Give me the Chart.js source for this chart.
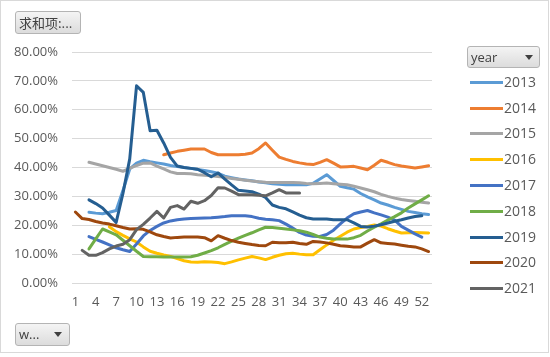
<!DOCTYPE html>
<html><head><meta charset="utf-8">
<script src="https://cdn.jsdelivr.net/npm/chart.js@4/dist/chart.umd.min.js"></script>
<style>
body{margin:0;background:#fff;}
#wrap{position:relative;width:550px;height:357px;overflow:hidden;font-family:"Open Sans","Noto Sans CJK SC",sans-serif;}
#frame{position:absolute;left:0;top:0;width:547px;height:351px;border:1px solid #d9d9d9;}
canvas{position:absolute;left:0;top:0;}
.btn{position:absolute;box-sizing:border-box;border:1px solid #b4b4b4;border-radius:3px;background:linear-gradient(#f4f4f4,#dcdcdc);color:#404040;font-size:13px;line-height:21px;}
.arrow{position:absolute;width:0;height:0;border-left:4px solid transparent;border-right:4px solid transparent;border-top:5px solid #404040;}
#legend{position:absolute;left:470px;top:70px;}
.li{position:absolute;left:0;height:20px;width:80px;}
.li .sw{position:absolute;left:0;top:9px;width:33px;height:3px;}
.li .tx{position:absolute;left:34px;top:0;font-size:14px;line-height:20px;color:#595959;}
</style></head>
<body>
<div id="wrap">
<div id="frame"></div>
<canvas id="c" width="550" height="357"></canvas>
<div class="btn" style="left:15px;top:11px;width:66px;height:23px;padding-left:3px;font-family:'Noto Sans CJK SC',sans-serif;">求和项:...</div>
<div class="btn" style="left:15px;top:323px;width:55px;height:23px;padding-left:3px;">w...<div class="arrow" style="left:38px;top:8px;"></div></div>
<div class="btn" style="left:467px;top:46px;width:73px;height:22px;padding-left:3px;line-height:20px;">year<div class="arrow" style="left:57px;top:8px;"></div></div>
<div id="legend"></div>
</div>
<script>
const weeks = Array.from({length:53}, (_, i) => String(i + 1));
const years = ['2013','2014','2015','2016','2017','2018','2019','2020','2021'];
const colors = ['#5b9bd5','#ed7d31','#a5a5a5','#ffc000','#4472c4','#70ad47','#255e91','#9e480e','#636363'];
const yTicks = [0,10,20,30,40,50,60,70,80];
const N = null;
const s2013 = [N,N,24.5,24.2,24,24.5,25.1,32,39.5,41.5,42.5,42,41.6,41.2,40.7,40.3,40,39.7,39.3,39,38.5,38,37,36.5,36,35.7,35.4,35,34.7,34.4,34.2,34,34,34,34,34.5,36,37.5,35.5,33.5,33,32.5,31,29.8,28.8,27.7,27,26.2,25.5,24.8,24.4,24,23.7];
const s2014 = [N,N,N,N,N,N,N,N,N,N,N,N,N,44.4,45,45.6,46,46.4,46.4,46.4,45.2,44.4,44.4,44.4,44.4,44.6,45,46.5,48.5,46,43.6,42.8,42.1,41.6,41.2,41,41.8,42.7,41.5,40.2,40.3,40.4,39.8,39.2,40.8,42.5,41.8,41,40.5,40.2,39.8,40.2,40.6];
const s2015 = [N,N,41.8,41.2,40.6,40,39.4,38.7,39.7,40.7,41.5,41.6,40.5,39.5,38.5,37.9,37.9,37.8,37.5,37.3,37.1,36.9,36.6,36.2,35.9,35.6,35.3,35.1,34.9,34.8,34.8,34.8,34.8,34.7,34.5,34.4,34.5,34.6,34.4,34.2,34,33.5,32.9,32.3,31.6,30.7,30,29.4,28.9,28.6,28.3,28,27.7];
const s2016 = [N,N,N,N,N,19.5,17.8,16.5,15.3,14.2,12.5,11,10.3,9.7,9.2,8.5,7.7,7.3,7.2,7.4,7.3,7.1,6.7,7.3,8,8.6,9.2,8.7,8.1,8.9,9.6,10.1,10.3,10,9.8,9.8,11.5,13.2,14.8,16.2,17.6,18.7,19.2,19.6,20.1,19.7,18.8,18,17.3,17.4,17.5,17.4,17.3];
const s2017 = [N,N,16.1,15.1,14.2,13.2,12.2,11.5,10.9,13.5,16.3,18.2,19.6,20.8,21.5,21.9,22.2,22.3,22.4,22.5,22.6,22.8,23,23.3,23.3,23.3,23,22.4,22.1,21.9,21.6,20.4,19,17.5,16.6,16.2,16.1,16.8,18.3,20.5,22.5,24,24.6,25.1,24.3,23.6,22.8,21.8,19.6,18.3,17,15.9,N];
const s2018 = [N,N,11.8,15.3,18.7,17.7,16.7,14.8,12.9,11,9.2,9.1,9.1,9,9,9,9,9.1,9.6,10.4,11.2,12.2,13.4,14.5,15.5,16.5,17.4,18.4,19.3,19.2,19,18.7,18.4,18.1,17.6,16.8,15.9,15.5,15.2,15.2,15.2,15.7,16.5,18,19.3,20.5,21.8,23,24.3,26,27.4,28.8,30.2];
const s2019 = [N,N,28.8,27.5,26,23.5,21,31,43,68.3,66,52.7,52.9,48.5,43.5,40.5,40,39.7,39.4,38.2,36.8,38.1,36,34,32.1,31.9,31.6,30.8,29.6,27,26.2,25.7,24.6,23.5,22.6,22.2,22.2,22.2,21.9,21.9,21.9,20.8,19.6,19.4,19.7,20.2,20.8,21.4,21.9,22.5,23,23.3,N];
const s2020 = [24.6,22.3,22,21.3,20.8,20.4,19.8,19.2,18.7,18.8,18.6,17.7,16.7,16.1,15.6,15.8,15.9,15.9,15.9,15.7,14.6,16.4,15.5,14.7,14.1,13.7,13.3,13,12.9,14.1,13.9,13.9,14.1,13.7,13.4,14.4,14.2,13.9,13.4,12.9,12.7,12.5,12.5,13.8,15,13.9,13.7,13.5,13.1,12.7,12.5,11.8,10.9];
const s2021 = [N,11.3,9.6,9.6,10.5,11.8,12.8,13.4,15,18.5,20.3,22.5,24.8,22.5,26.2,26.8,25.6,28.3,27.6,28.5,30.3,33,32.9,31.8,30.6,30.6,30.6,30.4,30.2,31.2,32.3,31.2,31.2,31.2,N,N,N,N,N,N,N,N,N,N,N,N,N,N,N,N,N,N,N];
const series = [s2013,s2014,s2015,s2016,s2017,s2018,s2019,s2020,s2021];

const datasets = years.map((y, i) => ({
  label: y, data: series[i], borderColor: colors[i], backgroundColor: colors[i],
  borderWidth: 3, pointRadius: 0, tension: 0, spanGaps: false, fill: false,
  order: years.length - i, borderJoinStyle: 'round', borderCapStyle: 'round'
}));

new Chart(document.getElementById('c'), {
  type: 'line',
  data: { labels: weeks, datasets },
  options: {
    responsive: false, animation: false,
    layout: { padding: { left: 0, right: 118, top: 52, bottom: 0 } },
    plugins: { legend: { display: false }, tooltip: { enabled: false } },
    scales: {
      x: {
        offset: true,
        grid: { display: false, drawTicks: false },
        border: { display: false },
        ticks: {
          autoSkip: false, maxRotation: 0, minRotation: 0, padding: 11,
          color: '#595959', font: { family: 'Open Sans', size: 13 },
          callback: (v, i) => (i % 3 === 0 ? weeks[i] : '')
        },
        afterFit: s => { s.height = 74; }
      },
      y: {
        min: yTicks[0], max: yTicks[yTicks.length - 1],
        afterBuildTicks: s => { s.ticks = yTicks.map(v => ({ value: v })); },
        grid: { color: '#d9d9d9', lineWidth: 1, drawTicks: false },
        border: { display: false },
        ticks: {
          padding: 14, color: '#595959', font: { family: 'Open Sans', size: 13 },
          callback: v => v.toFixed(2) + '%'
        },
        afterFit: s => { s.width = 72; }
      }
    }
  }
});

const lg = document.getElementById('legend');
years.forEach((y, i) => {
  const d = document.createElement('div');
  d.className = 'li';
  d.style.top = (i * 25.8 + 1.7) + 'px';
  d.innerHTML = '<div class="sw" style="background:' + colors[i] + '"></div><div class="tx">' + y + '</div>';
  lg.appendChild(d);
});
</script>
</body></html>
